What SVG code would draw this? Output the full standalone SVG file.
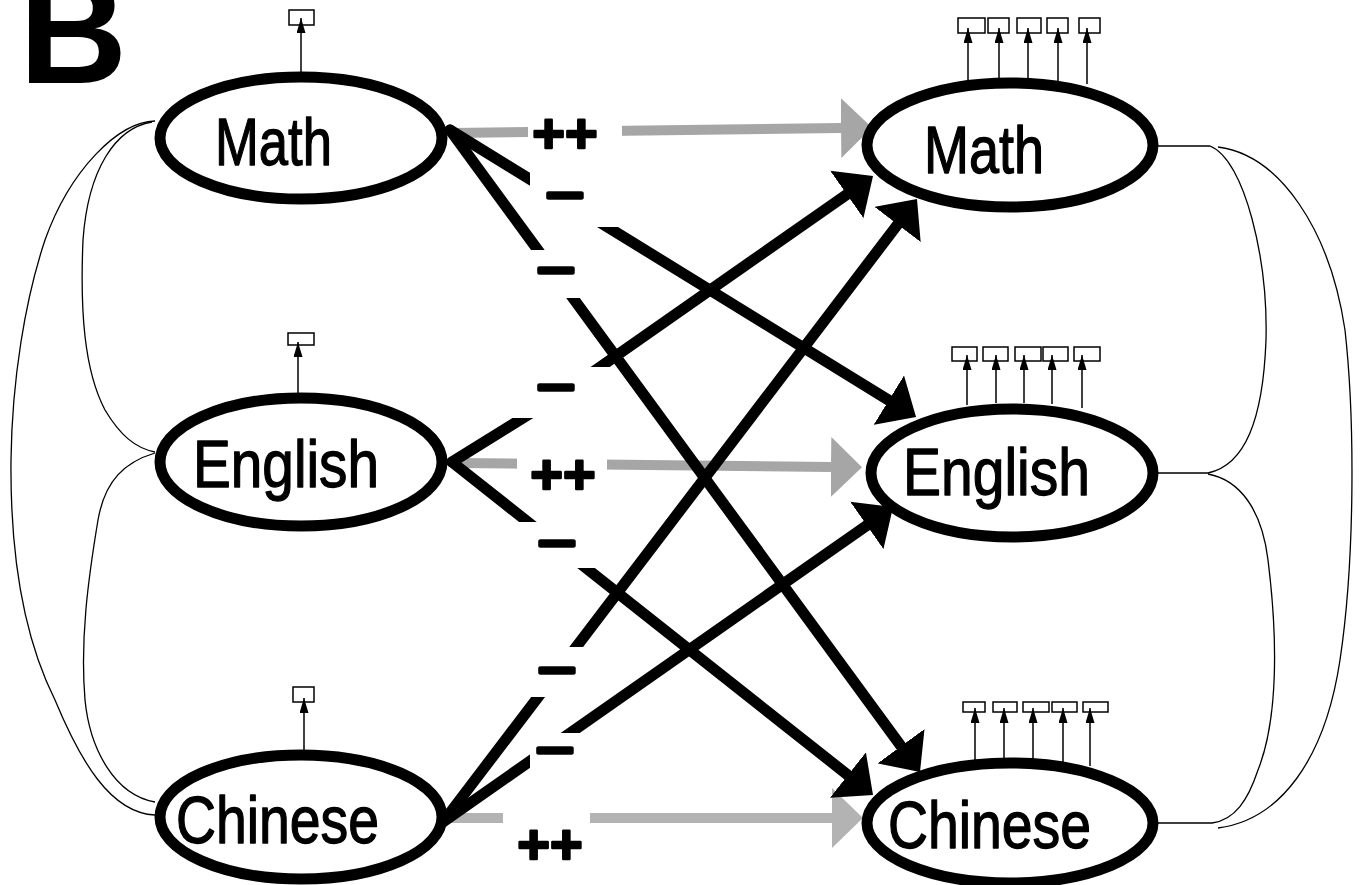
<svg xmlns="http://www.w3.org/2000/svg" width="1367" height="885" viewBox="0 0 1367 885">
<style>
.ell{fill:#fff;stroke:#000;stroke-width:11}
.nl{font-family:"Liberation Sans Narrow","Liberation Sans",Arial,sans-serif;font-size:67px;fill:#000;stroke:#000;stroke-width:1.3;stroke-linejoin:round}
.box{fill:#fff;stroke:#000;stroke-width:1.5}
.ind{stroke:#000;stroke-width:1.5;fill:none;marker-end:url(#hs)}
.blk{stroke:#000;stroke-width:11;fill:none;stroke-linecap:round;stroke-linejoin:round;marker-end:url(#hb)}
.gry{stroke:#a6a6a6;stroke-width:10;fill:none;marker-end:url(#hg)}
.gry2{stroke:#b3b3b3;stroke-width:10;fill:none;marker-end:url(#hg2)}
.cor{stroke:#000;stroke-width:1.3;fill:none}
.lbl{font-family:"Liberation Sans",Arial,sans-serif;font-weight:bold;fill:#000;stroke:#000;stroke-width:2.5;stroke-linejoin:round;text-anchor:middle}
.dash{font-family:"Liberation Sans",Arial,sans-serif;font-weight:bold;font-size:50px;fill:#000;stroke:#000;stroke-width:3.5;stroke-linejoin:round}
</style>
<defs>
<marker id="hb" viewBox="0 0 32 58" refX="0" refY="29" markerWidth="32" markerHeight="58" markerUnits="userSpaceOnUse" orient="auto"><path d="M0,0 L32,29 L0,58 Z" fill="#000"/></marker>
<marker id="hg" viewBox="0 0 31 60" refX="0" refY="30" markerWidth="31" markerHeight="60" markerUnits="userSpaceOnUse" orient="auto"><path d="M0,0 L31,30 L0,60 Z" fill="#a6a6a6"/></marker>
<marker id="hg2" viewBox="0 0 31 60" refX="0" refY="30" markerWidth="31" markerHeight="60" markerUnits="userSpaceOnUse" orient="auto"><path d="M0,0 L31,30 L0,60 Z" fill="#b3b3b3"/></marker>
<marker id="hs" viewBox="0 0 15 9" refX="15" refY="4.5" markerWidth="15" markerHeight="9" markerUnits="userSpaceOnUse" orient="auto"><path d="M0,0 L15,4.5 L0,9 Z" fill="#000"/></marker>
<mask id="cut" maskUnits="userSpaceOnUse" x="0" y="0" width="1367" height="885">
<rect x="0" y="0" width="1367" height="885" fill="#fff"/>
<rect x="528" y="112" width="94" height="38" fill="#000"/>
<rect x="530" y="150" width="110" height="77" fill="#000"/>
<rect x="520" y="250" width="100" height="48" fill="#000"/>
<rect x="505" y="367" width="107" height="51" fill="#000"/>
<rect x="517" y="445" width="90" height="40" fill="#000"/>
<rect x="505" y="522" width="115" height="46" fill="#000"/>
<rect x="520" y="647" width="88" height="50" fill="#000"/>
<rect x="530" y="733" width="70" height="57" fill="#000"/>
<rect x="503" y="805" width="87" height="27" fill="#000"/>
</mask>
</defs>
<rect width="1367" height="885" fill="#fff"/>
<text x="19" y="83" style="font-family:'Liberation Sans',Arial,sans-serif;font-weight:bold;font-size:150px" fill="#000">B</text>

<g id="correlations">
<path class="cor" d="M155,121 C118,122 70,170 45,240 C25,300 12,380 11,460 C10,560 25,640 55,700 C80,760 110,813 155,815"/>
<path class="cor" d="M152,122 C115,128 88,170 83,240 C80,310 84,370 105,410 C120,435 135,448 155,452"/>
<path class="cor" d="M155,453 C125,462 105,480 98,520 C88,580 80,640 85,700 C90,750 115,795 155,802"/>
<path class="cor" d="M1158,146 L1210,146 C1245,160 1268,260 1266,340 C1263,420 1245,465 1208,473 L1158,473"/>
<path class="cor" d="M1208,474 C1240,480 1262,510 1268,560 C1278,640 1278,720 1258,770 C1248,800 1235,820 1212,823 L1158,823"/>
<path class="cor" d="M1218,147 C1280,155 1330,230 1345,330 C1355,420 1355,560 1340,660 C1325,760 1280,820 1218,828"/>
</g>

<g id="connectors" mask="url(#cut)">
<path class="gry" d="M452,133 L841,128"/>
<path class="gry" d="M455,463 L831,467"/>
<path class="gry2" d="M450,818 L832,818"/>
<path class="blk" d="M450,130 L888.8,400.2"/>
<path class="blk" d="M450,130 L901.1,746.2"/>
<path class="blk" d="M452,462 L563,393 L846.8,194.4"/>
<path class="blk" d="M452,462 L847.9,775.1"/>
<path class="blk" d="M443,822 L897.6,224.5"/>
<path class="blk" d="M443,822 L866.8,525.4"/>
</g>

<g id="labels">
<text class="lbl" x="565" y="151.5" font-size="56">++</text>
<text class="dash" x="546.5" y="209" textLength="37" lengthAdjust="spacingAndGlyphs">–</text>
<text class="dash" x="537.5" y="284" textLength="37" lengthAdjust="spacingAndGlyphs">–</text>
<text class="dash" x="537.5" y="401" textLength="37" lengthAdjust="spacingAndGlyphs">–</text>
<text class="lbl" x="563" y="492.5" font-size="56">++</text>
<text class="dash" x="538.5" y="557" textLength="37" lengthAdjust="spacingAndGlyphs">–</text>
<text class="dash" x="538.5" y="684" textLength="37" lengthAdjust="spacingAndGlyphs">–</text>
<text class="dash" x="536.5" y="764" textLength="37" lengthAdjust="spacingAndGlyphs">–</text>
<text class="lbl" x="550" y="862.5" font-size="56">++</text>
</g>

<g id="math-t1">
<rect class="box" x="289" y="10" width="25" height="15"/>
<line class="ind" x1="301" y1="72" x2="301" y2="18"/>
<ellipse class="ell" cx="301" cy="138" rx="141" ry="61"/>
<text class="nl" x="215" y="165" textLength="117" lengthAdjust="spacingAndGlyphs">Math</text>
</g>
<g id="english-t1">
<rect class="box" x="288" y="333" width="26" height="12"/>
<line class="ind" x1="298" y1="394" x2="298" y2="342"/>
<ellipse class="ell" cx="301" cy="462" rx="141" ry="64"/>
<text class="nl" x="193" y="487" textLength="186" lengthAdjust="spacingAndGlyphs">English</text>
</g>
<g id="chinese-t1">
<rect class="box" x="293" y="687" width="21" height="15"/>
<line class="ind" x1="304" y1="750" x2="304" y2="698"/>
<ellipse class="ell" cx="301" cy="817" rx="141" ry="62"/>
<text class="nl" x="176" y="843" textLength="203" lengthAdjust="spacingAndGlyphs">Chinese</text>
</g>

<g id="math-t2">
<rect class="box" x="958" y="18" width="27" height="15"/>
<rect class="box" x="988" y="18" width="21" height="15"/>
<rect class="box" x="1017" y="18" width="24" height="15"/>
<rect class="box" x="1047" y="18" width="21" height="15"/>
<rect class="box" x="1079" y="18" width="21" height="15"/>
<line class="ind" x1="968" y1="81" x2="968" y2="28"/>
<line class="ind" x1="999" y1="80" x2="999" y2="28"/>
<line class="ind" x1="1028" y1="80" x2="1028" y2="28"/>
<line class="ind" x1="1058" y1="81" x2="1058" y2="28"/>
<line class="ind" x1="1087" y1="84" x2="1087" y2="28"/>
<ellipse class="ell" cx="1010" cy="145" rx="143" ry="62"/>
<text class="nl" x="924" y="173" textLength="120" lengthAdjust="spacingAndGlyphs">Math</text>
</g>
<g id="english-t2">
<rect class="box" x="952" y="347" width="25" height="14"/>
<rect class="box" x="983" y="347" width="25" height="14"/>
<rect class="box" x="1015" y="347" width="26" height="14"/>
<rect class="box" x="1043" y="347" width="25" height="14"/>
<rect class="box" x="1074" y="347" width="26" height="14"/>
<line class="ind" x1="967" y1="405" x2="967" y2="355"/>
<line class="ind" x1="996" y1="403" x2="996" y2="355"/>
<line class="ind" x1="1024" y1="403" x2="1024" y2="355"/>
<line class="ind" x1="1052" y1="404" x2="1052" y2="355"/>
<line class="ind" x1="1082" y1="408" x2="1082" y2="355"/>
<ellipse class="ell" cx="1012" cy="473" rx="141" ry="64"/>
<text class="nl" x="903" y="495" textLength="187" lengthAdjust="spacingAndGlyphs">English</text>
</g>
<g id="chinese-t2">
<rect class="box" x="963" y="702" width="22" height="10"/>
<rect class="box" x="993" y="702" width="24" height="10"/>
<rect class="box" x="1023" y="702" width="26" height="10"/>
<rect class="box" x="1052" y="702" width="25" height="10"/>
<rect class="box" x="1083" y="702" width="25" height="10"/>
<line class="ind" x1="975" y1="762" x2="975" y2="708"/>
<line class="ind" x1="1004" y1="760" x2="1004" y2="708"/>
<line class="ind" x1="1033" y1="760" x2="1033" y2="708"/>
<line class="ind" x1="1063" y1="762" x2="1063" y2="708"/>
<line class="ind" x1="1090" y1="766" x2="1090" y2="708"/>
<ellipse class="ell" cx="1010" cy="823" rx="143" ry="60"/>
<text class="nl" x="888" y="848" textLength="203" lengthAdjust="spacingAndGlyphs">Chinese</text>
</g>
</svg>
